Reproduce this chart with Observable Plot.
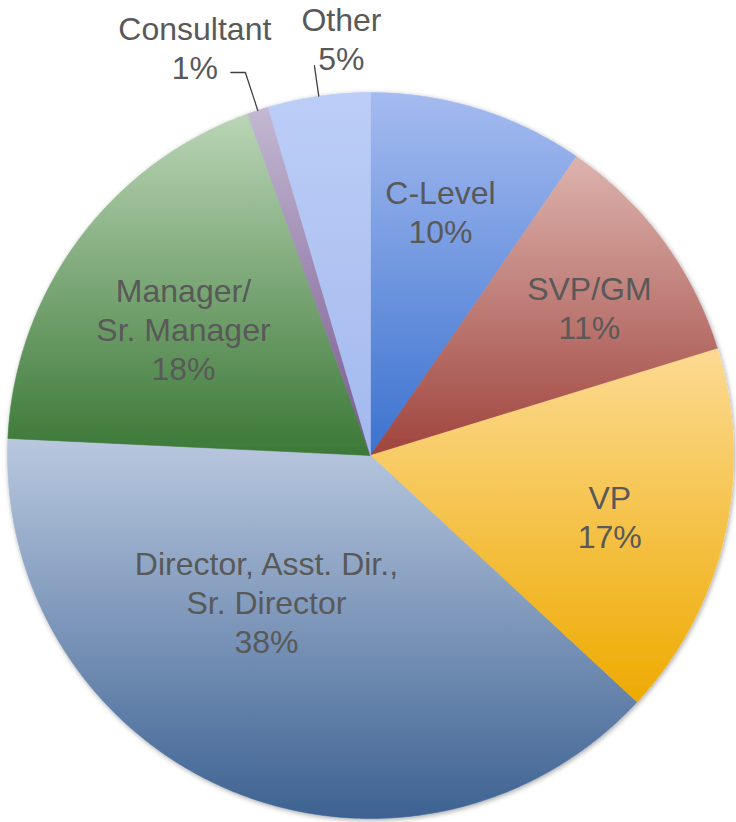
<!DOCTYPE html>
<html><head><meta charset="utf-8">
<script src="https://cdn.jsdelivr.net/npm/d3@7"></script>
<script src="https://cdn.jsdelivr.net/npm/@observablehq/plot@0.6"></script>
<style>html,body{margin:0;padding:0;background:#fff}#chart svg{display:block}</style>
</head><body><div id="chart"></div>
<script>
// ---- data ----
const categories = ["C-Level", "SVP/GM", "VP", "Director, Asst. Dir.,\nSr. Director", "Manager/\nSr. Manager", "Consultant", "Other"];
const shares = [9.6, 10.65, 16.65, 38.85, 18.75, 0.95, 4.55];          // slice sizes as drawn
const pctLabels = ["10%", "11%", "17%", "38%", "18%", "1%", "5%"];    // printed labels
const topColors = ["#a5bbf0", "#ddb3ae", "#fcda92", "#b9c8df", "#bad5b6", "#c3b8d2", "#bccef7"];
const bottomColors = ["#3b72cf", "#9f443d", "#eeaa00", "#3d6292", "#3b7836", "#775890", "#a3b9ee"];

// ---- layout helpers ----
const total = d3.sum(shares);
let acc = 0;
const slices = categories.map((name, i) => {
  const a0 = acc / total * 2 * Math.PI;
  acc += shares[i];
  const a1 = acc / total * 2 * Math.PI;
  return {name, i, a0, a1, mid: (a0 + a1) / 2};
});
// label placement: [radius fraction, angular nudge in degrees]
const labelLayout = [[0.70, -1.3], [0.728, 2.2], [0.68, 1.4], [0.494, 12.7], [0.623, -2.25], [1.224, -5.2], [1.152, 4.2]];
const rad = Math.PI / 180;

const polyPts = slices.flatMap(s => {
  const n = Math.max(2, Math.ceil((s.a1 - s.a0) / (Math.PI / 360)));
  const pts = [{name: s.name, x: 0, y: 0}];
  for (let k = 0; k <= n; k++) {
    const a = s.a0 + (s.a1 - s.a0) * k / n;
    pts.push({name: s.name, x: Math.sin(a), y: Math.cos(a)});
  }
  pts.push({name: s.name, x: 0, y: 0});
  return pts;
});

const labels = slices.map(s => {
  const [r, da] = labelLayout[s.i];
  const a = s.mid + da * rad;
  return {x: r * Math.sin(a), y: r * Math.cos(a), text: s.name + "\n" + pctLabels[s.i]};
});

// leader lines for the two small outside slices
const leaders = [];
[5, 6].forEach(i => {
  const s = slices[i];
  const rEl = i === 5 ? 1.11 : 1.085;
  leaders.push({k: i, x: Math.sin(s.mid), y: Math.cos(s.mid)});
  leaders.push({k: i, x: rEl * Math.sin(s.mid), y: rEl * Math.cos(s.mid)});
  if (i === 5) leaders.push({k: i, x: rEl * Math.sin(s.mid) - 0.04, y: rEl * Math.cos(s.mid)});
});

const svg = Plot.plot({
  width: 736,
  height: 822,
  marginTop: 92,
  marginBottom: 4,
  marginLeft: 7,
  marginRight: 3,
  x: {domain: [-1, 1], axis: null},
  y: {domain: [-1, 1], axis: null},
  color: {type: "ordinal", domain: categories, range: categories.map((_, i) => `url(#grad${i})`)},
  style: {fontFamily: "'Liberation Sans', Arial, sans-serif", background: "#fff", overflow: "visible"},
  marks: [
    Plot.line(polyPts, {x: "x", y: "y", z: "name", fill: "name", stroke: "name", strokeWidth: 0.6, curve: "linear"}),
    Plot.line(leaders, {x: "x", y: "y", z: "k", stroke: "#404040", strokeWidth: 1.3}),
    Plot.text(labels, {x: "x", y: "y", text: "text", fontSize: 32, lineHeight: 1.22, fill: "#595959", textAnchor: "middle"})
  ]
});

const ns = "http://www.w3.org/2000/svg";
const defs = document.createElementNS(ns, "defs");
categories.forEach((c, i) => {
  const g = document.createElementNS(ns, "linearGradient");
  g.setAttribute("id", "grad" + i);
  g.setAttribute("x1", "0"); g.setAttribute("y1", "0");
  g.setAttribute("x2", "0"); g.setAttribute("y2", "1");
  [[0, topColors[i]], [1, bottomColors[i]]].forEach(([o, col]) => {
    const st = document.createElementNS(ns, "stop");
    st.setAttribute("offset", o);
    st.setAttribute("stop-color", col);
    g.appendChild(st);
  });
  defs.appendChild(g);
});
const f = document.createElementNS(ns, "filter");
f.setAttribute("id", "pieShadow");
f.setAttribute("x", "-5%"); f.setAttribute("y", "-5%");
f.setAttribute("width", "110%"); f.setAttribute("height", "110%");
const ds = document.createElementNS(ns, "feDropShadow");
ds.setAttribute("dx", "1"); ds.setAttribute("dy", "1.5");
ds.setAttribute("stdDeviation", "2.5");
ds.setAttribute("flood-color", "#000"); ds.setAttribute("flood-opacity", "0.35");
f.appendChild(ds);
defs.appendChild(f);
svg.insertBefore(defs, svg.firstChild);
const pieG = svg.querySelectorAll('g[aria-label="line"]')[0];
if (pieG) pieG.setAttribute("filter", "url(#pieShadow)");

document.getElementById("chart").appendChild(svg);
</script>
</body></html>
